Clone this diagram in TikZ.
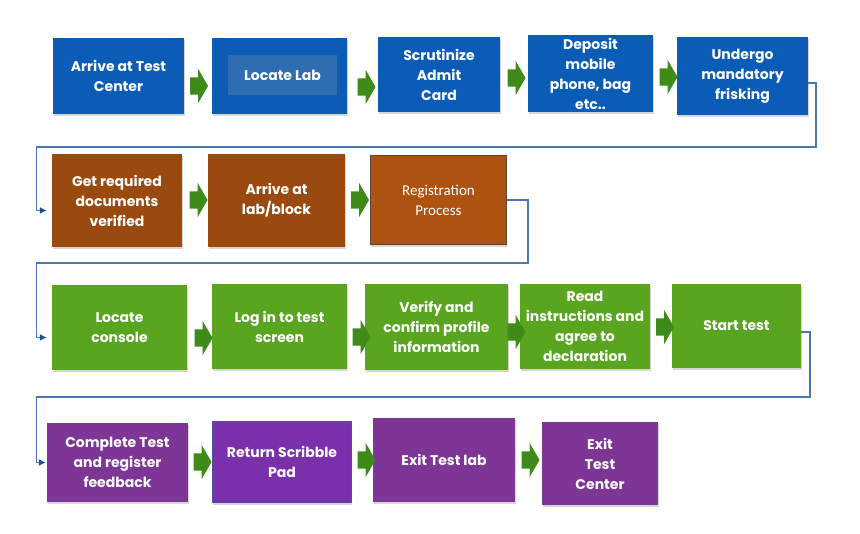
\documentclass[tikz,border=0pt]{standalone}
\usepackage{fontspec}
\setmainfont{Poppins}
\newfontfamily\calibri{Carlito}
\usetikzlibrary{shapes.arrows}
\usetikzlibrary{shadows}
\usetikzlibrary{arrows.meta}

\definecolor{boxblue}{HTML}{0B5CB6}
\definecolor{labblue}{HTML}{2F6DB3}
\definecolor{boxbrown}{HTML}{9A4A0E}
\definecolor{regbrown}{HTML}{AD5211}
\definecolor{regedge}{HTML}{5A463A}
\definecolor{boxgreen}{HTML}{59A51F}
\definecolor{boxpurple}{HTML}{7D3696}
\definecolor{padpurple}{HTML}{7A30AA}
\definecolor{padedge}{HTML}{4D4FA3}
\definecolor{arrowgreen}{HTML}{3E8B1A}
\definecolor{linkblue}{HTML}{4A78AE}
\definecolor{tipblue}{HTML}{1E4E8E}

\begin{document}
\begin{tikzpicture}[x=1pt, y=-1pt,
  box/.style={rectangle, text=white, align=center, inner sep=0pt,
    font=\fontsize{14}{20}\selectfont\bfseries,
    drop shadow={shadow xshift=0.5pt, shadow yshift=-2.5pt, fill=black!35, opacity=0.45}},
  flecha/.style={single arrow, fill=arrowgreen, inner xsep=0pt, inner ysep=8.5pt,
    minimum height=18pt, single arrow head extend=8.5pt, single arrow tip angle=120},
  link/.style={draw=linkblue, line width=1.3pt, shorten >=5pt,
    -{Latex[length=7pt, width=7pt, color=tipblue]}}]
            \path[use as bounding box, fill=white] (0,0) rectangle (860,534);

            % Cajas
            \node[box, fill=boxblue, minimum width=131pt, minimum height=76pt] (b1) at (118.5,76) {Arrive at Test\\Center};
            \node[box, fill=boxblue, minimum width=135pt, minimum height=76pt] (b2) at (279.5,76) {};
            \node[fill=labblue, text=white, inner sep=0pt, font=\fontsize{14}{20}\selectfont\bfseries,
              minimum width=109pt, minimum height=40pt] (lab) at (282.5,75) {Locate Lab};
            \node[box, fill=boxblue, minimum width=122pt, minimum height=75pt] (b3) at (439,74.5) {Scrutinize\\Admit\\Card};
            \node[box, fill=boxblue, minimum width=125pt, minimum height=77pt] (b4) at (590.5,73.5) {Deposit\\mobile\\phone, bag\\etc..};
            \node[box, fill=boxblue, minimum width=131pt, minimum height=78pt] (b5) at (742.5,76) {Undergo\\mandatory\\frisking};

            \node[box, fill=boxbrown, minimum width=130pt, minimum height=93pt] (b6) at (117,200.5) {Get required\\documents\\verified};
            \node[box, fill=boxbrown, minimum width=137pt, minimum height=93pt] (b7) at (276.5,200.5) {Arrive at\\lab/block};
            \node[box, fill=regbrown, draw=regedge, line width=1.5pt, font=\calibri\fontsize{15}{20}\selectfont,
              minimum width=136pt, minimum height=89pt] (b8) at (438.5,200) {Registration\\Process};

            \node[box, fill=boxgreen, minimum width=135pt, minimum height=85pt] (b9) at (119.5,327.5) {Locate\\console};
            \node[box, fill=boxgreen, minimum width=135pt, minimum height=85pt] (b10) at (279.5,326.5) {Log in to test\\screen};
            \node[box, fill=boxgreen, minimum width=143pt, minimum height=86pt] (b11) at (436.5,327) {Verify and\\confirm profile\\information};
            \node[box, fill=boxgreen, minimum width=130pt, minimum height=85pt] (b12) at (585,326.5) {Read\\instructions and\\agree to\\declaration};
            \node[box, fill=boxgreen, minimum width=129pt, minimum height=84pt] (b13) at (736.5,326) {Start test};

            \node[box, fill=boxpurple, minimum width=141pt, minimum height=79pt] (b14) at (117.5,462.5) {Complete Test\\and register\\feedback};
            \node[box, fill=padpurple, draw=padedge, line width=1pt, minimum width=139pt, minimum height=81pt] (b15) at (282,462) {Return Scribble\\Pad};
            \node[box, fill=boxpurple, minimum width=142pt, minimum height=84pt] (b16) at (444,460) {Exit Test lab};
            \node[box, fill=boxpurple, minimum width=116pt, minimum height=83pt] (b17) at (600,463.5) {Exit\\Test\\Center};

            % Flechas
            \node[flecha] (a1) at (196.5,86) {};
            \node[flecha] (a2) at (364,87) {};
            \node[flecha] (a3) at (514,78) {};
            \node[flecha] (a4) at (666,77) {};
            \node[flecha] (a5) at (196,200) {};
            \node[flecha] (a6) at (357.5,200) {};
            \node[flecha] (a7) at (201,338) {};
            \node[flecha] (a8) at (359,337) {};
            \node[flecha] (a9) at (514,332) {};
            \node[flecha] (a10) at (662.5,327) {};
            \node[flecha] (a11) at (200,462) {};
            \node[flecha] (a12) at (364,460) {};
            \node[flecha] (a13) at (528,460) {};

            % Conectores
            \draw[link] ([yshift=-7pt]b5.east) -| (816,147) -| ([xshift=-15pt,yshift=-10pt]b6.west) -- ([yshift=-10pt]b6.west);
            \draw[link] (b8.east) -| (528,263) -| ([xshift=-15pt,yshift=-10pt]b9.west) -- ([yshift=-10pt]b9.west);
            \draw[link, shorten >=1pt] ([yshift=-6pt]b13.east) -| (810,397) -| ([xshift=-10pt]b14.west) -- (b14.west);
          \end{tikzpicture}
\end{document}
